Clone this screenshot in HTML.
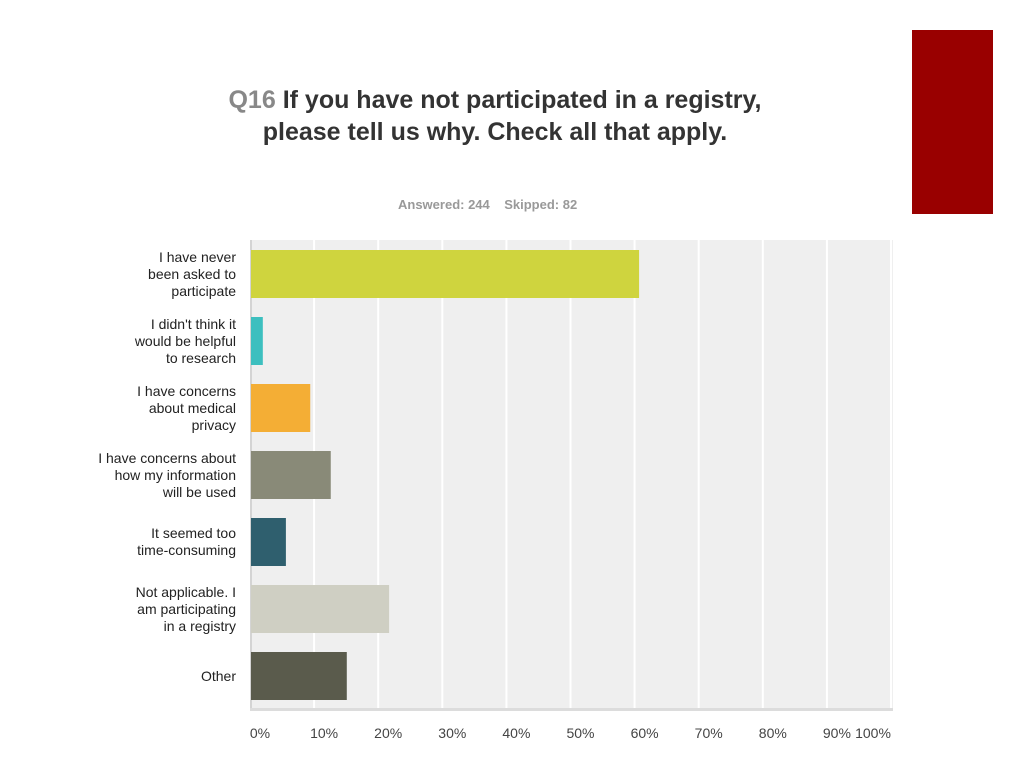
<!DOCTYPE html>
<html><head><meta charset="utf-8"><style>
body{margin:0;width:1024px;height:768px;background:#fff;position:relative;overflow:hidden;font-family:"Liberation Sans",sans-serif}
.red{position:absolute;left:912px;top:30px;width:81px;height:184px;background:#990000}
.title{position:absolute;left:200px;width:590px;top:84px;text-align:center;font-size:25px;font-weight:bold;color:#333;line-height:32px}
.title span{color:#888}
.sub{position:absolute;left:398px;top:197px;font-size:13px;font-weight:bold;color:#999}
.lbl{position:absolute;right:788px;text-align:right;font-size:14px;color:#222;line-height:17px}
</style></head><body>
<div class="red"></div>
<div class="title"><span>Q16</span> If you have not participated in a registry, please tell us why. Check all that apply.</div>
<div class="sub">Answered: 244 &nbsp;&nbsp; Skipped: 82</div>
<div id="labels"></div>
<svg id="chart" width="1024" height="768" style="position:absolute;left:0;top:0"></svg>
<script>
const categories=["I have never\nbeen asked to\nparticipate","I didn't think it\nwould be helpful\nto research","I have concerns\nabout medical\nprivacy","I have concerns about\nhow my information\nwill be used","It seemed too\ntime-consuming","Not applicable. I\nam participating\nin a registry","Other"];
const values=[60.7,2.0,9.4,12.6,5.6,21.7,15.1];
const colors=["#cfd43e","#3dbfbf","#f4ae35","#898a78","#2f5f6e","#cfcfc3","#5a5b4c"];
const tickLabels=["0%","10%","20%","30%","40%","50%","60%","70%","80%","90%","100%"];
const ns="http://www.w3.org/2000/svg";
const svg=document.getElementById('chart');
const X0=250,X1=891,Y0=240,Y1=708;
const x=v=>X0+(X1-X0)*v/100;
const band=67,barH=48,firstTop=250;
const y=i=>firstTop+i*band;
function mk(t,a){const e=document.createElementNS(ns,t);for(const k in a)e.setAttribute(k,a[k]);svg.appendChild(e);return e;}
const bg=mk('rect',{x:X0,y:Y0,width:X1-X0+2,height:Y1-Y0,fill:"#efefef"});


const ax=mk('rect',{x:X0,y:Y0,width:2,height:Y1-Y0+2,fill:"#d4d4d4"});


const bx=mk('rect',{x:X0,y:Y1,width:X1-X0+2,height:3,fill:"#dcdcdc"});


tickLabels.forEach((t,i)=>{
  const v=i*10;
  if(i>0){const g=mk('line',{x1:x(v),x2:x(v),y1:Y0,y2:Y1,stroke:"#fff","stroke-width":2});
  
  }
  const tx=mk('text',{x:i==10?x(v)-18:x(v)+10,y:738,"text-anchor":"middle","font-size":14,fill:"#444","font-family":"Liberation Sans, sans-serif"});
  tx.textContent=t;
  
  
});
const L=document.getElementById('labels');
values.forEach((v,i)=>{
  const r=mk('rect',{x:x(0)+1,y:y(i),width:x(v)-x(0)-1,height:barH,fill:colors[i]});
  
  
  const lines=categories[i].split('\n');
  const d=document.createElement('div');
  d.className='lbl';
  d.style.top=(y(i)+barH/2-lines.length*17/2)+'px';
  d.innerHTML=lines.join('<br>');
  
  
  L.appendChild(d);
});
</script>
</body></html>
